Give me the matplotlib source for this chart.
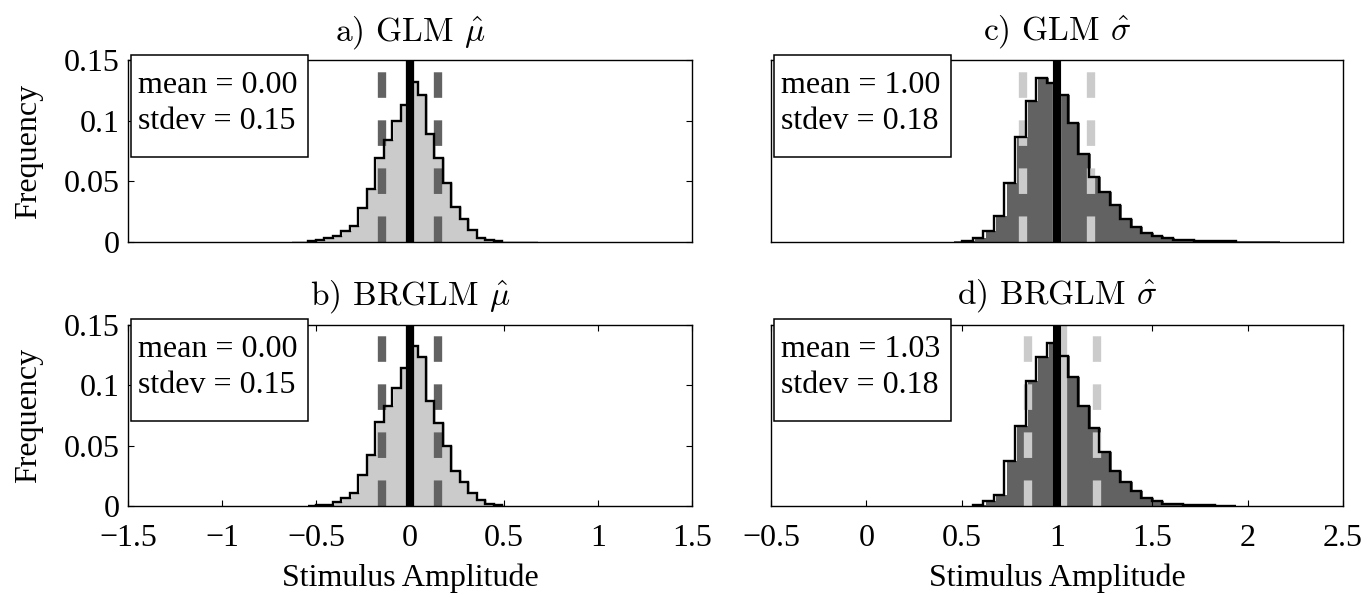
import numpy as np
import matplotlib
matplotlib.use('Agg')
import matplotlib.pyplot as plt
from matplotlib.patches import Rectangle

plt.rcParams['mathtext.fontset'] = 'cm'
plt.rcParams['font.family'] = ['Liberation Serif', 'DejaVu Serif']
plt.rcParams['lines.scale_dashes'] = False

# ---------------- data ----------------
mu_bin_start = -0.68
mu_bin_width = 0.045
sigma_bin_start = 0.3934
sigma_bin_width = 0.0552

freq_a = [0.0001, 0.0002, 0.0004, 0.0008, 0.0014, 0.0033, 0.0047, 0.009, 0.013,
          0.0276, 0.0436, 0.069, 0.084, 0.100, 0.113, 0.1325, 0.1215, 0.0895,
          0.0695, 0.049, 0.029, 0.0185, 0.010, 0.0033, 0.0012, 0.0006, 0.0004,
          0.0003, 0.0002, 0.0002, 0.0001, 0.0001]
freq_b = [0.0001, 0.0002, 0.0003, 0.0005, 0.0008, 0.0014, 0.0033, 0.0069, 0.011,
          0.0261, 0.0427, 0.0694, 0.0826, 0.098, 0.114, 0.132, 0.123, 0.0867,
          0.0688, 0.0495, 0.0295, 0.0198, 0.011, 0.0055, 0.0019, 0.0008, 0.0004,
          0.0003, 0.0002, 0.0001, 0.0001]
freq_c = [0.0001, 0.0003, 0.0008, 0.0028, 0.009, 0.0213, 0.049, 0.0866, 0.1165,
          0.1355, 0.131, 0.1212, 0.0985, 0.0727, 0.0539, 0.0414, 0.0304, 0.019,
          0.0125, 0.0075, 0.0045, 0.003, 0.0015, 0.0011, 0.0009, 0.0007, 0.0006,
          0.0005, 0.0004, 0.0003, 0.0002, 0.0002]
freq_d = [0.0001, 0.0002, 0.0004, 0.0008, 0.0041, 0.0096, 0.0377, 0.066, 0.1038,
          0.123, 0.135, 0.1239, 0.1065, 0.0826, 0.0647, 0.0449, 0.0289, 0.0201,
          0.0124, 0.0069, 0.0041, 0.0022, 0.0015, 0.0011, 0.0009, 0.0007, 0.0006,
          0.0005, 0.0004, 0.0003, 0.0002, 0.0002]

titles = ['a) GLM $\\hat{\\mu}$', 'b) BRGLM $\\hat{\\mu}$',
          'c) GLM $\\hat{\\sigma}$', 'd) BRGLM $\\hat{\\sigma}$']
est_means = [0.00, 0.00, 1.00, 1.03]
est_stdevs = [0.15, 0.15, 0.18, 0.18]
true_values = [0.0, 0.0, 1.0, 1.0]
mu_xticks = [-1.5, -1, -0.5, 0, 0.5, 1, 1.5]
sigma_xticks = [-0.5, 0, 0.5, 1, 1.5, 2, 2.5]
yticks = [0, 0.05, 0.1, 0.15]
ytick_labels = ['0', '0.05', '0.1', '0.15']
ylabel_text = 'Frequency'
xlabel_text = 'Stimulus Amplitude'

# ---------------- styling ----------------
W, H = 1372, 597
DPI = 100
fig = plt.figure(figsize=(W / DPI, H / DPI), dpi=DPI)

def px_axes(x0, y0, x1, y1):
    return fig.add_axes([x0 / W, 1 - y1 / H, (x1 - x0) / W, (y1 - y0) / H])

LIGHT = '#cbcbcb'
DARK = '#626262'
FS = 23
OUTLINE_MIN = 0.0005   # tiny tail bins show only as fill, as in the reference

panels = [
    dict(freq=freq_a, start=mu_bin_start, width=mu_bin_width, fill=LIGHT, dash=DARK,
         box=(128, 60.5, 692, 241.7), xticks=mu_xticks, top=True, left=True),
    dict(freq=freq_b, start=mu_bin_start, width=mu_bin_width, fill=LIGHT, dash=DARK,
         box=(128, 324.7, 692, 506.3), xticks=mu_xticks, top=False, left=True),
    dict(freq=freq_c, start=sigma_bin_start, width=sigma_bin_width, fill=DARK, dash=LIGHT,
         box=(771, 60.5, 1343, 241.7), xticks=sigma_xticks, top=True, left=False),
    dict(freq=freq_d, start=sigma_bin_start, width=sigma_bin_width, fill=DARK, dash=LIGHT,
         box=(771, 324.7, 1343, 506.3), xticks=sigma_xticks, top=False, left=False),
]

def fmt(v):
    return ('%g' % v).replace('-', '\u2212')

for i, p in enumerate(panels):
    ax = px_axes(*p['box'])
    freq = np.asarray(p['freq'])
    edges = p['start'] + p['width'] * np.arange(len(freq) + 1)
    shift = 0.2 * p['width']
    ax.stairs(freq, edges + shift, fill=True, color=p['fill'], lw=0, zorder=1)
    m, s = est_means[i], est_stdevs[i]
    ax.axvline(m, color=p['dash'], lw=6, zorder=2, solid_capstyle='butt')
    for xv in (m - s, m + s):
        ax.plot([xv, xv], [0, 0.1405], color=p['dash'], lw=6, zorder=2,
                dashes=(18.4, 16.2), dash_capstyle='butt')
    idx = np.nonzero(freq >= OUTLINE_MIN)[0]
    lo, hi = idx[0], idx[-1] + 1
    ax.stairs(freq[lo:hi], edges[lo:hi + 1], color='black', lw=1.7, zorder=3)
    ax.axvline(true_values[i], color='black', lw=5.8, zorder=4, solid_capstyle='butt')

    ax.set_xlim(p['xticks'][0], p['xticks'][-1])
    ax.set_ylim(0, 0.15)
    for sp in ax.spines.values():
        sp.set_linewidth(1.0)
        sp.set_zorder(5)

    ax.tick_params(direction='in', length=4, width=0.8, labelsize=FS,
                   top=True, right=True)
    if p['top']:
        ax.set_xticks([])
    else:
        ax.set_xticks(p['xticks'])
        ax.set_xticklabels([fmt(v) for v in p['xticks']])
        ax.tick_params(axis='x', pad=13)
        ax.text(0.5, -0.395, xlabel_text, transform=ax.transAxes, ha='center',
                va='center', fontsize=FS)
    if p['left']:
        ax.set_yticks(yticks)
        ax.set_yticklabels(ytick_labels)
        ax.tick_params(axis='y', pad=6)
        ax.set_ylabel(ylabel_text, fontsize=FS)
        ax.yaxis.set_label_coords(-0.15, 0.5)
    else:
        ax.set_yticks([])

    ax.text(0.5, 1.0 + 20 / 181.2, titles[i], transform=ax.transAxes, ha='center',
            va='baseline', fontsize=FS + 1, family='cmr10')

    # statistics box
    axw = p['box'][2] - p['box'][0]
    rect = Rectangle((3 / axw, 0.47), 177 / axw, 0.56, transform=ax.transAxes,
                     facecolor='white', edgecolor='black', lw=1.1, zorder=10,
                     clip_on=False)
    ax.add_patch(rect)
    ax.text(10 / axw, 0.862, 'mean = %.2f' % m, transform=ax.transAxes,
            ha='left', va='center', fontsize=FS, zorder=11)
    ax.text(10 / axw, 0.665, 'stdev = %.2f' % s, transform=ax.transAxes,
            ha='left', va='center', fontsize=FS, zorder=11)

fig.savefig('out.png', dpi=DPI)
